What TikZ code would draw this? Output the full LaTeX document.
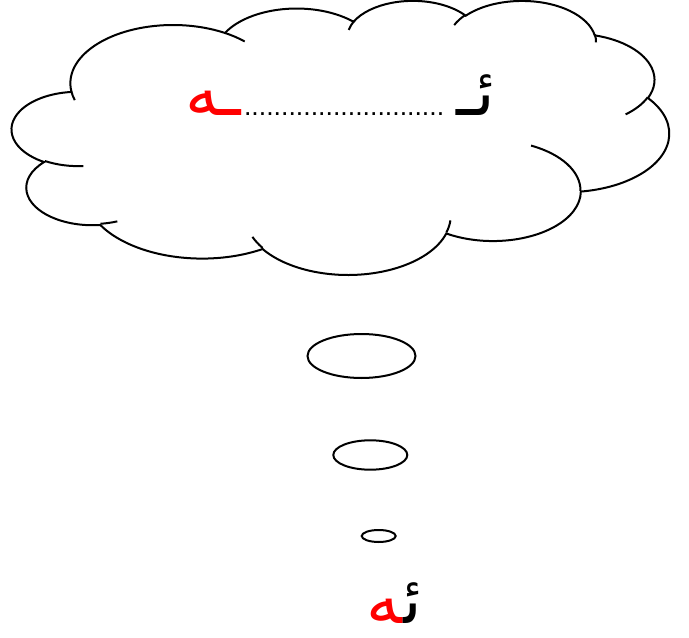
\documentclass[tikz,border=0pt]{standalone}
\usepackage{fontspec}
\usetikzlibrary{positioning}
\newfontfamily\arabicfont[Script=Arabic]{DejaVu Sans}
\newfontfamily\dotfont{Liberation Sans}
\TeXXeTstate=1
\tikzset{
  bump/.style n args={4}{x radius=#1, y radius=#2,
    start angle={atan2((#1)*sin(#3),(#2)*cos(#3))},
    delta angle={mod(atan2((#1)*sin((#3)+(#4)),(#2)*cos((#3)+(#4)))-atan2((#1)*sin(#3),(#2)*cos(#3))+720,360)}},
  puff/.style={draw=black, line width=1.5pt},
  arabic/.style={inner sep=0pt, font=\arabicfont\fontsize{50}{56}\selectfont},
  dotline/.style={inner sep=0pt, font=\dotfont\fontsize{20}{24}\selectfont}
}
\begin{document}
\begin{tikzpicture}[x=0.75pt, y=-0.75pt]
\useasboundingbox (0,0) rectangle (689,638);
% the cloud
\begin{scope}[shift={(12,0)}, xscale=657/432, yscale=274/432]
\draw[puff, fill=white] (39.00,143.70)
  arc[bump={67.53}{91.90}{-190.4875}{123.7805}]
  arc[bump={53.33}{72.67}{-144.1024}{89.9452}]
  arc[bump={43.65}{59.45}{-145.8079}{99.7230}]
  arc[bump={48.57}{65.95}{-130.9861}{117.2417}]
  arc[bump={53.33}{72.73}{-78.7089}{109.0269}]
  arc[bump={67.75}{92.20}{-46.2673}{130.2690}]
  arc[bump={57.85}{78.67}{0.6250}{114.0333}]
  arc[bump={67.52}{92.15}{22.4516}{115.1726}]
  arc[bump={77.20}{105.43}{66.2426}{75.7110}]
  arc[bump={43.60}{59.18}{-274.9421}{146.7356}]
  arc[bump={43.45}{59.45}{-246.8285}{152.5189}]
  -- cycle;
% inner folds
\draw[puff] (46.93,261.77) arc[bump={43.45}{59.45}{86.7420}{26.4295}]
  (69.28,348.99) arc[bump={43.60}{59.18}{73.6105}{11.4475}]
  (164.78,390.90) arc[bump={67.52}{92.15}{137.6241}{14.0811}]
  (288.27,347.51) arc[bump={67.52}{92.15}{6.4533}{15.9984}]
  (341.29,229.54) arc[bump={57.85}{78.67}{-70.2924}{70.9174}]
  (417.98,153.54) arc[bump={53.33}{72.73}{30.3180}{27.7515}]
  (383.24,54.26) arc[bump={48.57}{65.95}{-13.7443}{14.8589}]
  (290.78,39.52) arc[bump={48.57}{65.95}{-149.1815}{18.1954}]
  (221.41,47.20) arc[bump={43.65}{59.45}{-163.4943}{19.0096}]
  (140.00,51.92) arc[bump={67.53}{91.90}{-66.7070}{12.3194}]
  (41.27,157.89) arc[bump={67.53}{91.90}{157.6544}{11.8582}];
\end{scope}
% text in the cloud
\node[arabic, anchor=base east] (yeh) at (495,116) {\beginR ئـ\endR};
\node[dotline, base left=9pt of yeh] (dots) {...........................};
\node[arabic, text=red, base left=2pt of dots] (heh) {\beginR ـه\endR};
% bubbles
\draw[puff] (361.5,356) ellipse[x radius=54, y radius=22];
\draw[puff] (370.3,455) ellipse[x radius=37, y radius=14.7];
\draw[puff] (378.7,536) ellipse[x radius=17, y radius=6];
% the answer
\node[arabic, anchor=base east] (first) at (422,623) {\beginR ئ^^^^200d\endR};
\node[arabic, text=red, base left=0pt of first] (last) {\beginR ^^^^200dه\endR};
\end{tikzpicture}
\end{document}
